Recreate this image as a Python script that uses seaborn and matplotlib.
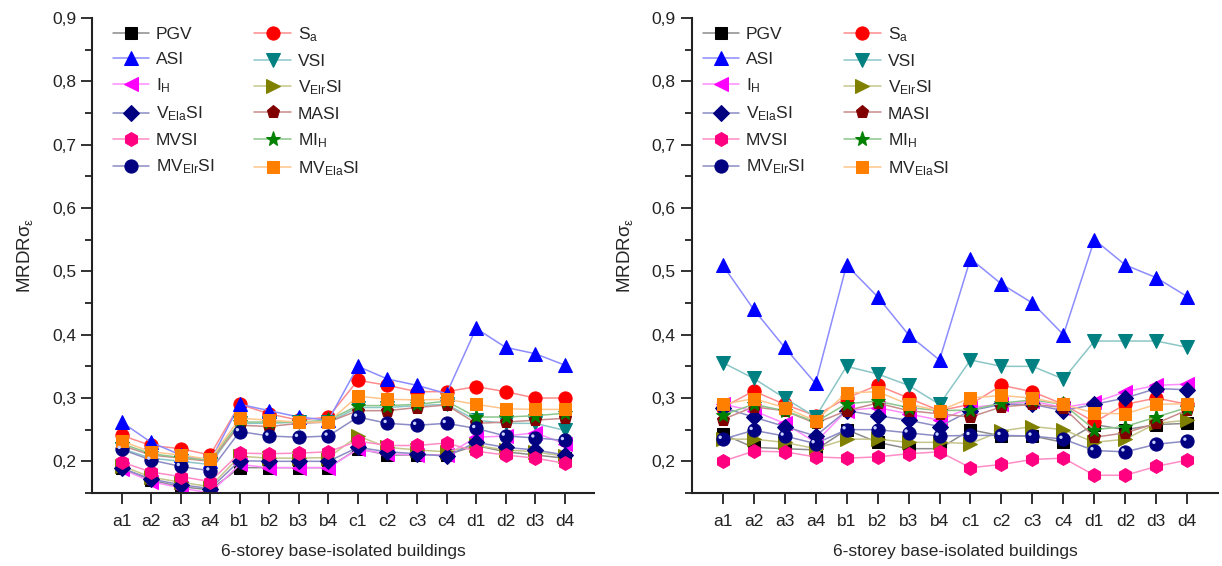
import numpy as np
import seaborn as sns
import matplotlib.pyplot as plt
from matplotlib.colors import to_rgb
from matplotlib.ticker import MultipleLocator, FuncFormatter

buildings = ['a1', 'a2', 'a3', 'a4', 'b1', 'b2', 'b3', 'b4',
             'c1', 'c2', 'c3', 'c4', 'd1', 'd2', 'd3', 'd4']

# Left panel values
left_pgv = [0.19, 0.17, 0.16, 0.155, 0.19, 0.19, 0.19, 0.19, 0.22, 0.21, 0.21, 0.21, 0.225, 0.215, 0.21, 0.205]
left_sa = [0.241, 0.225, 0.22, 0.21, 0.29, 0.275, 0.265, 0.27, 0.328, 0.32, 0.31, 0.31, 0.318, 0.31, 0.30, 0.30]
left_asi = [0.262, 0.23, 0.21, 0.20, 0.29, 0.28, 0.27, 0.265, 0.35, 0.33, 0.32, 0.307, 0.41, 0.38, 0.37, 0.352]
left_vsi = [0.22, 0.205, 0.20, 0.195, 0.26, 0.26, 0.262, 0.262, 0.285, 0.285, 0.288, 0.29, 0.265, 0.26, 0.26, 0.249]
left_ih = [0.188, 0.168, 0.158, 0.15, 0.195, 0.19, 0.19, 0.19, 0.219, 0.212, 0.21, 0.21, 0.238, 0.24, 0.245, 0.228]
left_velr = [0.193, 0.175, 0.167, 0.16, 0.208, 0.205, 0.205, 0.206, 0.24, 0.222, 0.218, 0.215, 0.225, 0.218, 0.215, 0.208]
left_vela = [0.189, 0.172, 0.163, 0.157, 0.201, 0.20, 0.20, 0.20, 0.222, 0.215, 0.212, 0.208, 0.23, 0.222, 0.218, 0.21]
left_masi = [0.225, 0.21, 0.205, 0.20, 0.257, 0.255, 0.26, 0.262, 0.28, 0.28, 0.285, 0.289, 0.26, 0.262, 0.265, 0.268]
left_mvsi = [0.199, 0.183, 0.176, 0.168, 0.213, 0.212, 0.213, 0.215, 0.232, 0.225, 0.225, 0.229, 0.216, 0.21, 0.205, 0.197]
left_mih = [0.228, 0.212, 0.206, 0.202, 0.262, 0.262, 0.262, 0.265, 0.288, 0.288, 0.29, 0.295, 0.27, 0.27, 0.272, 0.276]
left_mvelr = [0.219, 0.202, 0.192, 0.185, 0.247, 0.24, 0.238, 0.24, 0.27, 0.26, 0.257, 0.26, 0.252, 0.24, 0.237, 0.233]
left_mvela = [0.232, 0.215, 0.21, 0.203, 0.268, 0.265, 0.262, 0.262, 0.303, 0.298, 0.297, 0.298, 0.29, 0.283, 0.282, 0.282]

# Right panel values
right_pgv = [0.243, 0.222, 0.22, 0.218, 0.25, 0.23, 0.22, 0.22, 0.25, 0.24, 0.24, 0.23, 0.258, 0.25, 0.258, 0.26]
right_sa = [0.285, 0.311, 0.29, 0.272, 0.30, 0.32, 0.30, 0.28, 0.29, 0.32, 0.31, 0.29, 0.262, 0.29, 0.30, 0.29]
right_asi = [0.51, 0.44, 0.38, 0.323, 0.51, 0.46, 0.40, 0.36, 0.52, 0.48, 0.45, 0.40, 0.55, 0.51, 0.49, 0.46]
right_vsi = [0.356, 0.331, 0.30, 0.27, 0.35, 0.338, 0.32, 0.29, 0.36, 0.35, 0.35, 0.33, 0.39, 0.39, 0.39, 0.38]
right_ih = [0.29, 0.28, 0.26, 0.23, 0.28, 0.285, 0.275, 0.265, 0.285, 0.29, 0.295, 0.285, 0.293, 0.31, 0.32, 0.322]
right_velr = [0.235, 0.235, 0.23, 0.22, 0.235, 0.235, 0.23, 0.23, 0.228, 0.248, 0.255, 0.25, 0.23, 0.235, 0.26, 0.265]
right_vela = [0.285, 0.27, 0.255, 0.24, 0.28, 0.272, 0.265, 0.255, 0.28, 0.29, 0.29, 0.28, 0.29, 0.30, 0.315, 0.313]
right_masi = [0.266, 0.286, 0.28, 0.26, 0.28, 0.292, 0.28, 0.275, 0.27, 0.286, 0.29, 0.285, 0.238, 0.245, 0.26, 0.281]
right_mvsi = [0.20, 0.216, 0.215, 0.207, 0.205, 0.207, 0.212, 0.215, 0.19, 0.195, 0.203, 0.205, 0.178, 0.178, 0.192, 0.202]
right_mih = [0.273, 0.29, 0.28, 0.262, 0.291, 0.295, 0.285, 0.28, 0.281, 0.292, 0.297, 0.29, 0.25, 0.255, 0.27, 0.285]
right_mvelr = [0.235, 0.249, 0.24, 0.228, 0.25, 0.25, 0.245, 0.24, 0.241, 0.241, 0.24, 0.235, 0.217, 0.215, 0.227, 0.232]
right_mvela = [0.29, 0.299, 0.285, 0.264, 0.308, 0.31, 0.29, 0.28, 0.30, 0.304, 0.30, 0.29, 0.276, 0.275, 0.29, 0.291]

labels = ['PGV', r'S$_\mathregular{a}$', 'ASI', 'VSI', r'I$_\mathregular{H}$',
          r'V$_\mathregular{Elr}$SI', r'V$_\mathregular{Ela}$SI', 'MASI', 'MVSI',
          r'MI$_\mathregular{H}$', r'MV$_\mathregular{Elr}$SI', r'MV$_\mathregular{Ela}$SI']
colors = ['#000000', '#ff0000', '#0000ff', '#008080', '#ff00ff', '#808000',
          '#000080', '#800000', '#ff0080', '#008000', '#000080', '#ff8000']
markers = ['s', 'o', '^', 'v', '<', '>', 'D', 'p', 'h', '*', 'o', 's']
msizes = [8, 9.5, 10, 10, 10, 10, 8, 9.5, 10, 11, 9.5, 8.5]

left_series = [left_pgv, left_sa, left_asi, left_vsi, left_ih, left_velr,
               left_vela, left_masi, left_mvsi, left_mih, left_mvelr, left_mvela]
right_series = [right_pgv, right_sa, right_asi, right_vsi, right_ih, right_velr,
                right_vela, right_masi, right_mvsi, right_mih, right_mvelr, right_mvela]

sns.set_style('ticks')
plt.rcParams['font.family'] = ['Liberation Sans', 'DejaVu Sans']
plt.rcParams['mathtext.fontset'] = 'custom'
plt.rcParams['mathtext.rm'] = 'Liberation Sans'
plt.rcParams['mathtext.it'] = 'Liberation Sans:italic'


def lighter(c, f=0.55):
    r, g, b = to_rgb(c)
    return (r + (1 - r) * f, g + (1 - g) * f, b + (1 - b) * f)


fig = plt.figure(figsize=(12.22, 5.66), dpi=100)
ax_left = fig.add_axes([0.0753, 0.129, 0.411, 0.839])
ax_right = fig.add_axes([0.566, 0.129, 0.431, 0.839])

x = np.arange(len(buildings))

for ax, series, lx in [(ax_left, left_series, 0.01), (ax_right, right_series, -0.009)]:
    for vals, lab, col, mk, ms in zip(series, labels, colors, markers, msizes):
        sns.lineplot(x=x, y=vals, ax=ax, color=lighter(col), lw=1.1,
                     marker=mk, markersize=ms, markerfacecolor=col,
                     markeredgecolor=col, label=lab)
        if lab.startswith('MV$_\\mathregular{Elr}'):
            # small highlight to mimic the sphere marker
            sns.scatterplot(x=x - 0.08, y=np.array(vals) + 0.003, ax=ax, s=6,
                            color='#c8d0ff', edgecolor='none', legend=False, zorder=5)

    ax.set_xlim(-1, 16)
    ax.set_ylim(0.15, 0.9)
    ax.set_xticks(x)
    ax.set_xticklabels(buildings)
    ax.yaxis.set_major_locator(MultipleLocator(0.1))
    ax.yaxis.set_minor_locator(MultipleLocator(0.05))
    ax.yaxis.set_major_formatter(FuncFormatter(lambda v, p: f'{v:.1f}'.replace('.', ',')))
    ax.tick_params(axis='both', which='major', direction='out', length=8, width=1.3,
                   labelsize=12.5, colors='#222222')
    ax.tick_params(axis='x', which='major', pad=7)
    ax.tick_params(axis='y', which='minor', direction='out', length=5, width=1.3, colors='#222222')
    for s in ['top', 'right']:
        ax.spines[s].set_visible(False)
    for s in ['left', 'bottom']:
        ax.spines[s].set_linewidth(1.5)
        ax.spines[s].set_color('#222222')
    ax.set_xlabel('6-storey base-isolated buildings', fontsize=12.5, labelpad=11)
    ax.set_ylabel(r'MRDR$\mathregular{σ_ε}$', fontsize=13.5, labelpad=12)

    handles, labs = ax.get_legend_handles_labels()
    order = [0, 2, 4, 6, 8, 10, 1, 3, 5, 7, 9, 11]
    ax.legend([handles[i] for i in order], [labs[i] for i in order],
              ncol=2, loc='upper left', bbox_to_anchor=(lx, 1.018), frameon=False,
              fontsize=12.5, handlelength=2.1, columnspacing=2.3, labelspacing=0.55,
              handletextpad=0.4)

fig.savefig('out.png', dpi=100)
